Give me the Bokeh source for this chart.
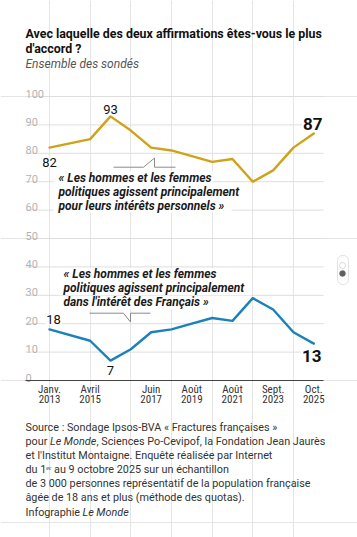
from bokeh.plotting import figure
from bokeh.models import Range1d, FixedTicker, Label, BoxAnnotation, LinearAxis
from bokeh.embed import file_html
from bokeh.resources import INLINE
from bokeh.core.properties import value

# ---------------- data ----------------
wave_index = [0, 2, 3, 4, 5, 6, 7, 8, 9, 10, 11, 12, 13]
interets_personnels = [82, 85, 93, 88, 82, 81, 79, 77, 78, 70, 74, 82, 87]
interet_des_francais = [18, 14, 7, 11, 17, 18, 20, 22, 21, 29, 25, 17, 13]
x_tick_positions = [0, 2, 5, 7, 9, 11, 13]
x_tick_months = ["Janv.", "Avril", "Juin", "Août", "Août", "Sept.", "Oct."]
x_tick_years = ["2013", "2015", "2017", "2019", "2021", "2023", "2025"]
y_ticks = [0, 10, 20, 30, 40, 50, 60, 70, 80, 90, 100]

GOLD = "#cfa21b"
BLUE = "#1a82b9"
FONT = "Roboto"
NARROW = "'Liberation Sans Narrow', 'Roboto Condensed', Roboto"
TXT = "#222222"

W, H = 357, 537
PX0, PXU = 49.0, 20.33     # canvas x of first wave, pixels per wave
PY0, PYU = 380.0, 2.84     # canvas y of 0 %, pixels per point
CL, CR = 25, 323           # chart area left / right in canvas px

p = figure(width=W, height=H,
           x_range=Range1d(-PX0 / PXU, (W - PX0) / PXU),
           y_range=Range1d(-(H - PY0) / PYU, PY0 / PYU),
           output_backend="svg", toolbar_location=None,
           x_axis_location=None, y_axis_location=None,
           min_border=0)
p.outline_line_color = None
p.background_fill_color = "white"
p.border_fill_color = "white"


def to_x(px):
    return (px - PX0) / PXU


def to_y(py):
    return (PY0 - py) / PYU


# horizontal grid lines over the chart area
p.segment(x0=[to_x(CL)] * len(y_ticks), x1=[to_x(CR)] * len(y_ticks),
          y0=y_ticks, y1=y_ticks, line_color="#dedede", line_width=1)


# x axis pinned at 0 % : one axis for months, one for years
def make_axis(labels, standoff, show_line):
    a = LinearAxis(fixed_location=0, ticker=FixedTicker(ticks=x_tick_positions),
                   bounds=(to_x(CL), to_x(CR)))
    a.major_label_overrides = dict(zip(x_tick_positions, labels))
    a.axis_line_color = "#444444" if show_line else None
    a.axis_line_width = 1
    a.major_tick_line_color = None
    a.minor_tick_line_color = None
    a.major_tick_out = 0
    a.major_tick_in = 0
    a.minor_tick_out = 0
    a.minor_tick_in = 0
    a.major_label_standoff = standoff
    a.major_label_text_font = NARROW
    a.major_label_text_font_size = "11px"
    a.major_label_text_color = "#333333"
    p.add_layout(a, "below")


make_axis(x_tick_months, 2, True)
make_axis(x_tick_years, 14, False)

# y tick labels, inside the chart above their grid lines
p.text(x=[to_x(CL)] * len(y_ticks), y=y_ticks, text=[str(v) for v in y_ticks],
       text_font=value(FONT), text_font_size="11px", text_color="#b3b3b3",
       text_baseline="alphabetic", text_align="left", y_offset=-3)

# call-out strokes
p.line(x=[to_x(v) for v in (113, 143, 154, 154, 175)],
       y=[to_y(v) for v in (166.7, 166.7, 157.5, 166.7, 166.7)],
       line_color="#8a8a8a", line_width=1)
p.line(x=[to_x(v) for v in (89, 123, 130, 130, 150)],
       y=[to_y(v) for v in (312.7, 312.7, 321.5, 312.7, 312.7)],
       line_color="#8a8a8a", line_width=1)

# series
p.line(wave_index, interets_personnels, line_color=GOLD, line_width=2.4,
       line_join="round", line_cap="round")
p.line(wave_index, interet_des_francais, line_color=BLUE, line_width=2.4,
       line_join="round", line_cap="round")


def data_label(i, series, dx, dy, size, bold):
    p.add_layout(Label(x=wave_index[i], y=series[i], text=str(series[i]),
                       x_offset=dx, y_offset=dy, text_align="center",
                       text_baseline="middle", text_font=FONT,
                       text_font_size=size, text_color="#111111",
                       text_font_style="bold" if bold else "normal",
                       background_fill_color="white", padding=1))


data_label(0, interets_personnels, 0, -14.5, "13px", False)
data_label(2, interets_personnels, 0, 7, "13px", False)
data_label(12, interets_personnels, -1, 9.5, "17px", True)
data_label(0, interet_des_francais, 4, 10, "13px", False)
data_label(2, interet_des_francais, 0, -10, "13px", False)
data_label(12, interet_des_francais, -2, -12, "17px", True)


def screen_label(px, py, text, size="11px", color=TXT, style="normal",
                 align="left", font=FONT):
    p.add_layout(Label(x=px, y=H - py, x_units="screen", y_units="screen",
                       text=text, text_font=font, text_font_size=size,
                       text_color=color, text_font_style=style,
                       text_align=align, text_baseline="middle"))


def screen_box(l, r, t, b, **kw):
    p.add_layout(BoxAnnotation(left=l, right=r, top=H - t, bottom=H - b,
                               left_units="screen", right_units="screen",
                               top_units="screen", bottom_units="screen", **kw))


def white_box(l, r, t, b):
    screen_box(l, r, t, b, fill_color="white", fill_alpha=1, line_color=None)


# series annotations (white knock-outs behind each line, then the text)
gold_lines = ["« Les hommes et les femmes", "politiques agissent principalement",
              "pour leurs intérêts personnels »"]
gold_right = [213, 246, 231]
blue_lines = ["« Les hommes et les femmes", "politiques agissent principalement",
              "dans l'intérêt des Français »"]
blue_right = [218, 251, 217]
for k in range(3):
    yc = 177.5 + k * 13.8
    white_box(53, gold_right[k], yc - 6.9, yc + 6.9)
    yb = 273.5 + k * 14.1
    white_box(58, blue_right[k], yb - 6, yb + 7.05)
for k, t in enumerate(gold_lines):
    screen_label(58, 177.5 + k * 13.8, t, size="12px", style="bold italic",
                 color="#1a1a1a")
for k, t in enumerate(blue_lines):
    screen_label(63, 273.5 + k * 14.1, t, size="12px", style="bold italic",
                 color="#1a1a1a")

# title / subtitle
screen_label(25, 33, "Avec laquelle des deux affirmations êtes-vous le plus",
             size="12.4px", style="bold", color="#111111")
screen_label(25, 48, "d'accord ?", size="12.4px", style="bold", color="#111111")
screen_label(25, 63, "Ensemble des sondés", size="12px", style="italic",
             color="#555555")

# source
SRC = "10.8px"
src = ["Source : Sondage Ipsos-BVA « Fractures françaises »",
       None,
       "et l'Institut Montaigne. Enquête réalisée par Internet",
       "du 1ᵉʳ au 9 octobre 2025 sur un échantillon",
       "de 3 000 personnes représentatif de la population française",
       "âgée de 18 ans et plus (méthode des quotas)."]
for k, t in enumerate(src):
    if t:
        screen_label(25, 427 + k * 14, t, size=SRC, color="#333333")
screen_label(25, 441, "pour", size=SRC, color="#333333")
screen_label(49.5, 441, "Le Monde", size=SRC, color="#333333", style="italic")
screen_label(96, 441, ", Sciences Po-Cevipof, la Fondation Jean Jaurès",
             size=SRC, color="#333333")
screen_label(25, 512, "Infographie", size=SRC, color="#333333")
screen_label(82, 512, "Le Monde", size=SRC, color="#333333", style="italic")

# scroll indicator at the right edge
screen_box(337, 348, 255, 284, fill_color="white", fill_alpha=1,
           line_color="#a0a0a0", line_width=1, border_radius=5)
screen_box(339, 345, 262, 268, fill_color="white", fill_alpha=1,
           line_color="#909090", line_width=1, border_radius=3)
screen_box(339, 345, 270, 276, fill_color="#606060", fill_alpha=1,
           line_color="#606060", line_width=1, border_radius=3)

open("out.html", "w").write(file_html(p, INLINE))
